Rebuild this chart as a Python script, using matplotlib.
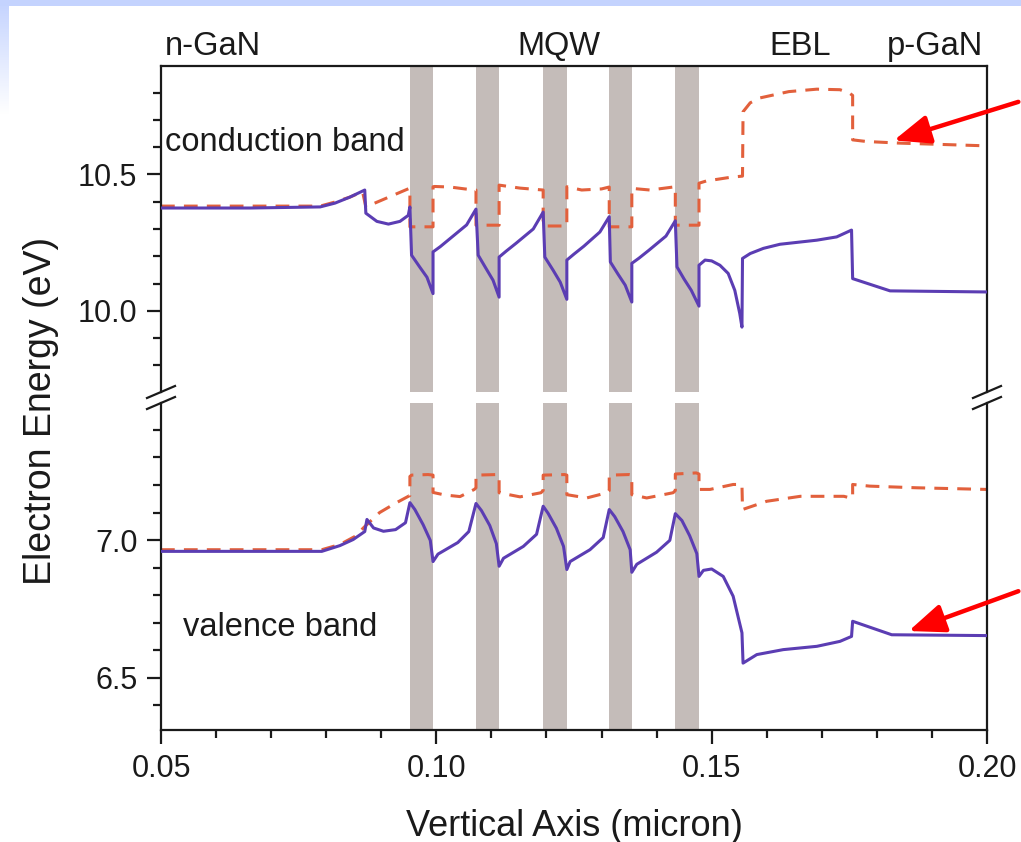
import matplotlib.pyplot as plt
from matplotlib.patches import Rectangle
from matplotlib.colors import LinearSegmentedColormap
from matplotlib.ticker import MultipleLocator
import numpy as np

plt.rcParams['font.family'] = ['Liberation Sans', 'DejaVu Sans']

# quantum well edges (micron)
well_left = [0.0952, 0.1072, 0.1194, 0.1314, 0.1434]
well_right = [0.0994, 0.1114, 0.1237, 0.1355, 0.1477]

# conduction band edge
cb_x = [0.0500, 0.0662, 0.0789, 0.0816, 0.0843, 0.0870, 0.0872, 0.0892, 0.0913, 0.0934, 0.0949, 0.0952,
        0.0955, 0.0970, 0.0983, 0.0994, 0.0994, 0.1007, 0.1025, 0.1055, 0.1072,
        0.1076, 0.1090, 0.1103, 0.1114, 0.1114, 0.1127, 0.1145, 0.1176, 0.1194,
        0.1197, 0.1212, 0.1225, 0.1237, 0.1237, 0.1250, 0.1268, 0.1297, 0.1314,
        0.1316, 0.1330, 0.1343, 0.1355, 0.1355, 0.1368, 0.1386, 0.1417, 0.1434,
        0.1437, 0.1450, 0.1463, 0.1477, 0.1477, 0.1488, 0.1500, 0.1515, 0.1530,
        0.1542, 0.1551, 0.1555, 0.1556, 0.1570, 0.1594, 0.1624, 0.1691, 0.1727,
        0.1754, 0.1756, 0.1824, 0.2000]
cb_e = [10.377, 10.377, 10.381, 10.395, 10.417, 10.443, 10.358, 10.328, 10.318, 10.328, 10.350, 10.381,
        10.204, 10.160, 10.123, 10.063, 10.216, 10.235, 10.265, 10.315, 10.373,
        10.204, 10.156, 10.112, 10.050, 10.197, 10.219, 10.248, 10.300, 10.362,
        10.197, 10.149, 10.105, 10.042, 10.186, 10.208, 10.237, 10.289, 10.345,
        10.179, 10.134, 10.094, 10.032, 10.174, 10.193, 10.222, 10.274, 10.330,
        10.161, 10.116, 10.075, 10.017, 10.167, 10.186, 10.183, 10.167, 10.137,
        10.075, 9.990, 9.940, 10.192, 10.210, 10.229, 10.244, 10.259, 10.271,
        10.296, 10.118, 10.073, 10.069]

# electron quasi-Fermi level
efn_x = [0.0500, 0.0789, 0.0816, 0.0843, 0.0866, 0.0872, 0.0952,
         0.0952, 0.0994, 0.0994, 0.0997, 0.1025, 0.1052, 0.1072,
         0.1072, 0.1114, 0.1114, 0.1152, 0.1194,
         0.1194, 0.1237, 0.1237, 0.1264, 0.1300, 0.1314,
         0.1314, 0.1355, 0.1355, 0.1388, 0.1415, 0.1434,
         0.1434, 0.1477, 0.1477, 0.1490, 0.1535, 0.1556, 0.1557, 0.1570, 0.1588,
         0.1640, 0.1691, 0.1733, 0.1750, 0.1756, 0.1756, 0.1781, 0.1842, 0.2000]
efn_e = [10.384, 10.384, 10.399, 10.417, 10.437, 10.381, 10.450,
         10.308, 10.308, 10.455, 10.456, 10.454, 10.447, 10.443,
         10.314, 10.314, 10.461, 10.450, 10.443,
         10.311, 10.311, 10.455, 10.443, 10.447, 10.454,
         10.308, 10.308, 10.449, 10.443, 10.450, 10.455,
         10.314, 10.314, 10.468, 10.476, 10.490, 10.494, 10.730, 10.763, 10.781,
         10.804, 10.813, 10.811, 10.799, 10.790, 10.627, 10.621, 10.615, 10.605]

# valence band edge
vb_x = [0.0500, 0.0792, 0.0825, 0.0849, 0.0870, 0.0874, 0.0886, 0.0904, 0.0926, 0.0944, 0.0952,
        0.0961, 0.0976, 0.0989, 0.0994, 0.1003, 0.1039, 0.1059, 0.1072,
        0.1082, 0.1097, 0.1109, 0.1114, 0.1122, 0.1158, 0.1182, 0.1194,
        0.1203, 0.1218, 0.1231, 0.1237, 0.1243, 0.1279, 0.1303, 0.1314,
        0.1324, 0.1339, 0.1352, 0.1355, 0.1364, 0.1400, 0.1424, 0.1434,
        0.1446, 0.1460, 0.1473, 0.1477, 0.1485, 0.1500, 0.1521, 0.1539, 0.1555, 0.1557,
        0.1582, 0.1630, 0.1691, 0.1733, 0.1754, 0.1756, 0.1827, 0.2000]
vb_e = [6.959, 6.959, 6.980, 7.002, 7.031, 7.075, 7.044, 7.032, 7.038, 7.063, 7.136,
        7.111, 7.056, 6.999, 6.922, 6.949, 6.991, 7.031, 7.133,
        7.107, 7.053, 6.987, 6.905, 6.934, 6.977, 7.021, 7.123,
        7.097, 7.043, 6.977, 6.893, 6.922, 6.965, 7.009, 7.111,
        7.085, 7.031, 6.965, 6.883, 6.912, 6.956, 6.999, 7.096,
        7.071, 7.016, 6.951, 6.868, 6.890, 6.895, 6.868, 6.796, 6.663, 6.553,
        6.584, 6.602, 6.614, 6.632, 6.650, 6.705, 6.656, 6.653]

# hole quasi-Fermi level
efp_x = [0.0500, 0.0792, 0.0825, 0.0852, 0.0870, 0.0897, 0.0925, 0.0952,
         0.0952, 0.0955, 0.0985, 0.0994, 0.0994, 0.1015, 0.1043, 0.1069, 0.1072,
         0.1072, 0.1110, 0.1114, 0.1114, 0.1152, 0.1190, 0.1194,
         0.1194, 0.1233, 0.1237, 0.1237, 0.1273, 0.1310, 0.1314,
         0.1314, 0.1350, 0.1355, 0.1355, 0.1382, 0.1430, 0.1434,
         0.1434, 0.1472, 0.1477, 0.1477, 0.1497, 0.1539, 0.1555, 0.1556,
         0.1600, 0.1661, 0.1740, 0.1752, 0.1756, 0.1756, 0.1787, 0.1872, 0.2000]
efp_e = [6.965, 6.965, 6.984, 7.013, 7.049, 7.100, 7.133, 7.162,
         7.231, 7.236, 7.238, 7.236, 7.173, 7.164, 7.158, 7.184, 7.190,
         7.236, 7.238, 7.236, 7.172, 7.157, 7.172, 7.180,
         7.236, 7.238, 7.236, 7.165, 7.153, 7.172, 7.180,
         7.236, 7.238, 7.236, 7.165, 7.153, 7.172, 7.180,
         7.240, 7.244, 7.240, 7.184, 7.184, 7.202, 7.202, 7.111,
         7.141, 7.159, 7.159, 7.153, 7.153, 7.202, 7.196, 7.190, 7.184]

region_names = ['n-GaN', 'MQW', 'EBL', 'p-GaN']
region_pos = [0.0507, 0.1223, 0.1660, 0.1906]
region_ha = ['left', 'center', 'center', 'center']

band_color = '#5b3db3'
fermi_color = '#e2603c'
well_color = '#c4bcb9'
text_color = '#1a1a1a'
fs = 22
fs_note = 23.5

fig = plt.figure(figsize=(10.21, 8.42), dpi=100)

# slide background strips
bg = fig.add_axes([0, 0, 1, 1], zorder=-10)
bg.set_xlim(0, 1021)
bg.set_ylim(842, 0)
bg.axis('off')
grad = np.linspace(0, 1, 64)[:, None]
bg.imshow(grad, cmap=LinearSegmentedColormap.from_list('s', ['#c4d3fe', '#ffffff']),
          extent=[0, 8, 115, 0], aspect='auto')
bg.add_patch(Rectangle((0, 0), 1021, 6, color='#c4d3fe', lw=0))

L, W = 161 / 1021, 826 / 1021
ax_top = fig.add_axes([L, 1 - 392 / 842, W, 326 / 842])
ax_bot = fig.add_axes([L, 1 - 730 / 842, W, 327 / 842])

for ax in (ax_top, ax_bot):
    for xl, xr in zip(well_left, well_right):
        ax.axvspan(xl, xr, color=well_color, lw=0, zorder=0)
    ax.set_xlim(0.05, 0.20)
    for s in ax.spines.values():
        s.set_linewidth(1.6)
        s.set_color(text_color)
    ax.tick_params(axis='both', which='major', length=10, width=1.6, labelsize=fs, pad=7,
                   color=text_color, labelcolor=text_color)
    ax.tick_params(axis='both', which='minor', length=6, width=1.6, color=text_color)
    ax.yaxis.set_minor_locator(MultipleLocator(0.1))
    ax.yaxis.set_major_locator(MultipleLocator(0.5))
    ax.yaxis.set_major_formatter('{x:.1f}')

dash = (0, (4.5, 3))
ax_top.plot(cb_x, cb_e, color=band_color, lw=2.2, zorder=3)
ax_top.plot(efn_x, efn_e, color=fermi_color, lw=2.2, ls=dash, zorder=2)
ax_bot.plot(vb_x, vb_e, color=band_color, lw=2.2, zorder=3)
ax_bot.plot(efp_x, efp_e, color=fermi_color, lw=2.2, ls=dash, zorder=2)

ax_top.set_ylim(9.702, 10.898)
ax_bot.set_ylim(6.31, 7.498)

ax_top.spines['bottom'].set_visible(False)
ax_top.tick_params(axis='x', which='both', bottom=False, labelbottom=False)
ax_bot.spines['top'].set_visible(False)
ax_bot.xaxis.set_major_locator(MultipleLocator(0.05))
ax_bot.xaxis.set_minor_locator(MultipleLocator(0.01))
ax_bot.xaxis.set_major_formatter('{x:.2f}')

# break marks on both vertical axes
dx, dy = 14 / 826, 6 / 326
for ax, y0 in ((ax_top, 0), (ax_bot, 1)):
    for x0 in (0, 1):
        ax.plot([x0 - dx, x0 + dx], [y0 - dy, y0 + dy], transform=ax.transAxes,
                color=text_color, lw=1.6, clip_on=False)

for name, xp, ha in zip(region_names, region_pos, region_ha):
    ax_top.text(xp, 1.012, name, transform=ax_top.get_xaxis_transform(), ha=ha, va='bottom',
                fontsize=fs_note, color=text_color)

ax_top.text(0.0508, 10.616, 'conduction band', fontsize=fs_note, va='center', color=text_color)
ax_bot.text(0.0540, 6.682, 'valence band', fontsize=fs_note, va='center', color=text_color)

ax_bot.set_xlabel('Vertical Axis (micron)', fontsize=26, labelpad=18, color=text_color)
fig.text(0.040, 1 - 411 / 842, 'Electron Energy (eV)', rotation=90, fontsize=27,
         ha='center', va='center', color=text_color)

arrow = dict(arrowstyle='-|>,head_length=1.0,head_width=0.4', color='#ff0000', lw=3.2, mutation_scale=22)
ax_top.annotate('', xy=(0.1826, 10.622), xytext=(1.0, 0.880), textcoords='figure fraction',
                arrowprops=arrow, annotation_clip=False)
ax_bot.annotate('', xy=(0.1853, 6.666), xytext=(1.0, 0.299), textcoords='figure fraction',
                arrowprops=arrow, annotation_clip=False)

fig.savefig('out.png', dpi=100)
